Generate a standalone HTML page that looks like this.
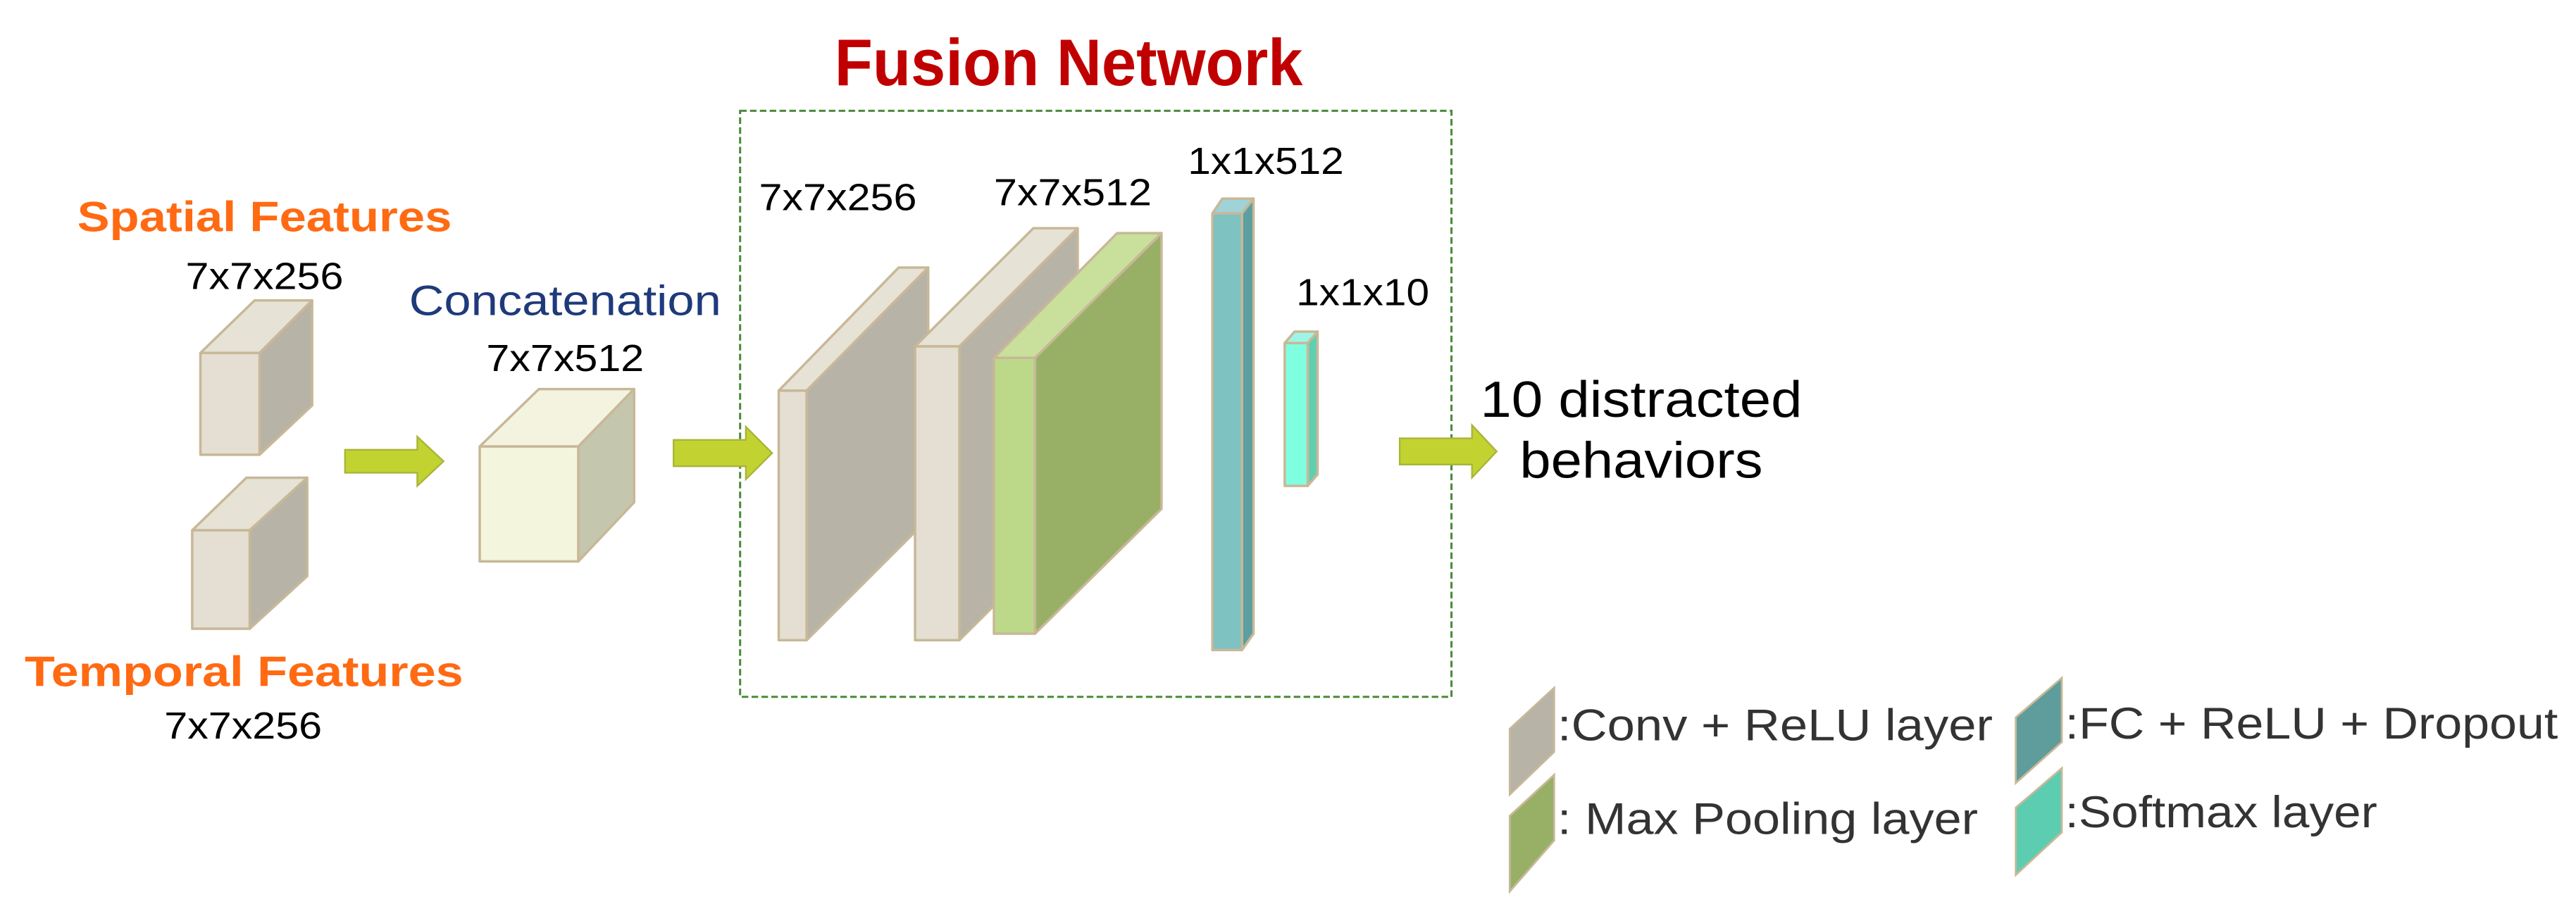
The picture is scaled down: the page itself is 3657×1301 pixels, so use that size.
<!DOCTYPE html>
<html><head><meta charset="utf-8"><style>
html,body{margin:0;padding:0;background:#fff;}
svg{display:block;}
text{font-family:"Liberation Sans",sans-serif;}
</style></head><body>
<svg width="3657" height="1301" viewBox="0 0 1568 558" preserveAspectRatio="none" xmlns="http://www.w3.org/2000/svg">
<rect width="1568" height="558" fill="#fff"/>
<!-- Title -->
<text x="508" y="52" font-size="40" font-weight="bold" fill="#c00000" textLength="285" lengthAdjust="spacingAndGlyphs">Fusion Network</text>
<rect x="450.5" y="67.5" width="433" height="357" fill="none" stroke="#4a8a3a" stroke-width="1.3" stroke-dasharray="4,2"/>

<!-- Spatial -->
<text x="47" y="141" font-size="26" font-weight="bold" fill="#ff6a13" textLength="228" lengthAdjust="spacingAndGlyphs">Spatial Features</text>
<text x="113" y="176" font-size="23" fill="#000" textLength="96" lengthAdjust="spacingAndGlyphs">7x7x256</text>
<g stroke="#c8b898" stroke-width="1.5" stroke-linejoin="round">
<polygon points="122,215 155,183 190,183 158,215" fill="#e6e2d6"/>
<polygon points="158,215 190,183 190,247 158,277" fill="#b7b3a6"/>
<rect x="122" y="215" width="36" height="62" fill="#e4dfd2"/>
<polygon points="117,323 150,291 187,291 152,323" fill="#e6e2d6"/>
<polygon points="152,323 187,291 187,351 152,383" fill="#b7b3a6"/>
<rect x="117" y="323" width="35" height="60" fill="#e4dfd2"/>
</g>
<text x="15" y="418" font-size="26" font-weight="bold" fill="#ff6a13" textLength="267" lengthAdjust="spacingAndGlyphs">Temporal Features</text>
<text x="100" y="450" font-size="23" fill="#000" textLength="96" lengthAdjust="spacingAndGlyphs">7x7x256</text>

<!-- arrows -->
<g fill="#c2d230" stroke="#a8b43a" stroke-width="1">
<polygon points="210,274 254,274 254,266 270,281 254,296 254,288 210,288"/>
<polygon points="410,268 454,268 454,260 470,276 454,292 454,284 410,284"/>
<polygon points="852,267 896,267 896,259 911,275 896,291 896,283 852,283"/>
</g>

<!-- Concatenation -->
<text x="249" y="192" font-size="26" fill="#1f3a7a" textLength="190" lengthAdjust="spacingAndGlyphs">Concatenation</text>
<text x="296" y="226" font-size="23" fill="#000" textLength="96" lengthAdjust="spacingAndGlyphs">7x7x512</text>
<g stroke="#c8b898" stroke-width="1.5" stroke-linejoin="round">
<polygon points="292,272 328,237 386,237 352,272" fill="#f3f3e0"/>
<polygon points="352,272 386,237 386,306 352,342" fill="#c4c6ad"/>
<rect x="292" y="272" width="60" height="70" fill="#f3f5dc"/>
</g>

<!-- Fusion labels -->
<text x="462" y="128" font-size="23" fill="#000" textLength="96" lengthAdjust="spacingAndGlyphs">7x7x256</text>
<text x="605" y="125" font-size="23" fill="#000" textLength="96" lengthAdjust="spacingAndGlyphs">7x7x512</text>
<text x="723" y="106" font-size="23" fill="#000" textLength="95" lengthAdjust="spacingAndGlyphs">1x1x512</text>
<text x="789" y="186" font-size="23" fill="#000" textLength="81" lengthAdjust="spacingAndGlyphs">1x1x10</text>

<g stroke="#c8b898" stroke-width="1.5" stroke-linejoin="round">
<!-- slab1 -->
<polygon points="474,238 547,163 565,163 491,238" fill="#e6e2d6"/>
<polygon points="491,238 565,163 565,316 491,390" fill="#b7b3a6"/>
<rect x="474" y="238" width="17" height="152" fill="#e4dfd2"/>
<!-- slab2 -->
<polygon points="557,211 629,139 656,139 584,211" fill="#e6e2d6"/>
<polygon points="584,211 656,139 656,318 584,390" fill="#b7b3a6"/>
<rect x="557" y="211" width="27" height="179" fill="#e4dfd2"/>
<!-- green -->
<polygon points="605,218 680,142 707,142 630,218" fill="#c8e09c"/>
<polygon points="630,218 707,142 707,310 630,386" fill="#97b066"/>
<rect x="605" y="218" width="25" height="168" fill="#bcd98a"/>
<!-- FC -->
<polygon points="738,130 744,121 763,121 756,130" fill="#9fd3d8"/>
<polygon points="756,130 763,121 763,386 756,396" fill="#5b9fa0"/>
<rect x="738" y="130" width="18" height="266" fill="#7fc2c2"/>
<!-- softmax -->
<polygon points="782,209 788,202 802,202 796,209" fill="#9ff5e5"/>
<polygon points="796,209 802,202 802,289 796,296" fill="#5fcfb0"/>
<rect x="782" y="209" width="14" height="87" fill="#7fffe0"/>
</g>

<text x="901" y="254" font-size="31" fill="#000" textLength="196" lengthAdjust="spacingAndGlyphs">10 distracted</text>
<text x="925" y="291" font-size="31" fill="#000" textLength="148" lengthAdjust="spacingAndGlyphs">behaviors</text>

<!-- legend -->
<g stroke="#c8b898" stroke-width="1.2">
<polygon points="919,444 946,419 946,458 919,484" fill="#b7b3a6"/>
<polygon points="919,497 946,472 946,512 919,543" fill="#97b066"/>
<polygon points="1227,437 1255,413 1255,452 1227,477" fill="#5f9c9c"/>
<polygon points="1227,492 1255,468 1255,507 1227,533" fill="#5ccdb0"/>
</g>
<g font-size="27" fill="#333">
<text x="948" y="451" textLength="265" lengthAdjust="spacingAndGlyphs">:Conv + ReLU layer</text>
<text x="948" y="508" textLength="256" lengthAdjust="spacingAndGlyphs">: Max Pooling layer</text>
<text x="1257" y="450" textLength="300" lengthAdjust="spacingAndGlyphs">:FC + ReLU + Dropout</text>
<text x="1257" y="504" textLength="190" lengthAdjust="spacingAndGlyphs">:Softmax layer</text>
</g>
</svg>
</body></html>
